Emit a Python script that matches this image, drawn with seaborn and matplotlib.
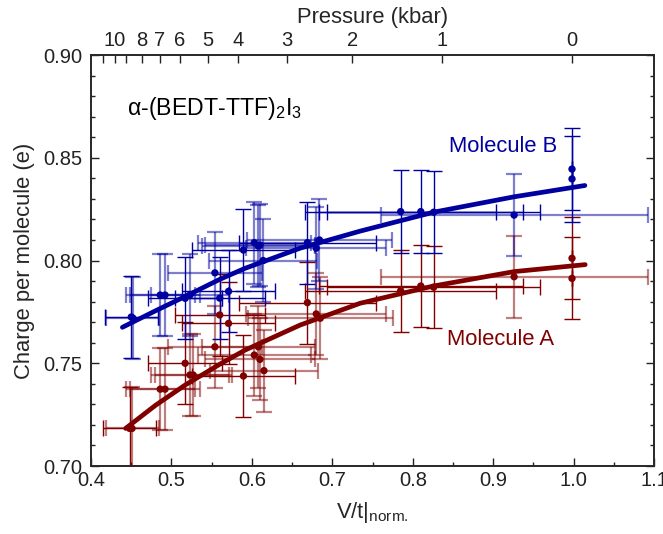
import numpy as np
import pandas as pd
import matplotlib
matplotlib.use("Agg")
import matplotlib.pyplot as plt
import seaborn as sns
from matplotlib.ticker import MultipleLocator, FormatStrFormatter

# ---------------- data ----------------
# Molecule B, measurement set I (solid error bars)
B1_vt     = [0.450, 0.517, 0.560, 0.571, 0.5895, 0.669, 0.785, 0.810, 0.826, 0.998, 0.998]
B1_charge = [0.7725, 0.7816, 0.7817, 0.7850, 0.8051, 0.8087, 0.8238, 0.8238, 0.8235, 0.8445, 0.8397]
B1_vt_err = [0.033, 0.046, 0.056, 0.058, 0.064, 0.085, 0.119, 0.127, 0.132, 0.0, 0.0]
B1_q_err  = [0.020, 0.020, 0.020, 0.020, 0.020, 0.020, 0.020, 0.020, 0.020, 0.020, 0.021]

# Molecule B, measurement set II (faint error bars)
B2_vt     = [0.452, 0.486, 0.492, 0.523, 0.554, 0.603, 0.608, 0.610, 0.614, 0.680, 0.684, 0.926]
B2_charge = [0.7720, 0.7832, 0.7832, 0.7832, 0.7940, 0.8087, 0.8070, 0.8075, 0.8000, 0.8060, 0.8100, 0.8221]
B2_vt_err = [0.033, 0.043, 0.043, 0.048, 0.058, 0.070, 0.070, 0.068, 0.067, 0.087, 0.090, 0.166]
B2_q_err  = [0.020] * 12

# Molecule A, measurement set I (solid error bars)
A1_vt     = [0.448, 0.517, 0.560, 0.571, 0.5895, 0.669, 0.785, 0.810, 0.826, 0.998, 0.998]
A1_charge = [0.7183, 0.7500, 0.7735, 0.7694, 0.7438, 0.7795, 0.7853, 0.7876, 0.7870, 0.8011, 0.7913]
A1_vt_err = [0.033, 0.046, 0.056, 0.058, 0.064, 0.085, 0.119, 0.127, 0.132, 0.0, 0.0]
A1_q_err  = [0.020] * 11

# Molecule A, measurement set II (faint error bars)
A2_vt     = [0.451, 0.486, 0.492, 0.523, 0.527, 0.554, 0.603, 0.608, 0.610, 0.615, 0.680, 0.685, 0.926]
A2_charge = [0.7183, 0.7374, 0.7374, 0.7443, 0.7443, 0.7580, 0.7540, 0.7580, 0.7519, 0.7464, 0.7740, 0.7719, 0.7921]
A2_vt_err = [0.033, 0.043, 0.043, 0.048, 0.048, 0.058, 0.070, 0.070, 0.068, 0.067, 0.087, 0.090, 0.166]
A2_q_err  = [0.020] * 13

# fitted curves
fitB_vt     = [0.439, 0.480, 0.517, 0.5604, 0.5915, 0.660, 0.7346, 0.8258, 0.926, 1.014]
fitB_charge = [0.7675, 0.7755, 0.7825, 0.7909, 0.7962, 0.8060, 0.8143, 0.8235, 0.8310, 0.8365]
fitA_vt     = [0.443, 0.480, 0.517, 0.5604, 0.5915, 0.660, 0.7346, 0.8258, 0.926, 1.0144]
fitA_charge = [0.7183, 0.7295, 0.7394, 0.7496, 0.7564, 0.7686, 0.7792, 0.7876, 0.7946, 0.7980]

# top axis: pressure (kbar) and the V/t positions of its ticks
pressure_labels = ["10", "8", "7", "6", "5", "4", "3", "2", "1", "0"]
pressure_vt     = [0.4299, 0.4631, 0.4858, 0.5107, 0.5455, 0.5828, 0.6438, 0.7246, 0.8366, 0.998]
pressure_minor_vt = [0.4150, 0.4435]   # 11 and 9 kbar (unlabelled)

# ---------------- frame building ----------------
def frame(mol, run, vt, q, dvt, dq):
    return pd.DataFrame({"molecule": mol, "run": run, "vt": vt, "charge": q,
                         "vt_err": dvt, "q_err": dq})

df = pd.concat([
    frame("Molecule B", "I", B1_vt, B1_charge, B1_vt_err, B1_q_err),
    frame("Molecule B", "II", B2_vt, B2_charge, B2_vt_err, B2_q_err),
    frame("Molecule A", "I", A1_vt, A1_charge, A1_vt_err, A1_q_err),
    frame("Molecule A", "II", A2_vt, A2_charge, A2_vt_err, A2_q_err),
], ignore_index=True)

fits = pd.concat([
    pd.DataFrame({"molecule": "Molecule B", "vt": fitB_vt, "charge": fitB_charge}),
    pd.DataFrame({"molecule": "Molecule A", "vt": fitA_vt, "charge": fitA_charge}),
], ignore_index=True)

# ---------------- style ----------------
sns.set_theme(style="ticks")
plt.rcParams["font.family"] = ["Liberation Sans", "DejaVu Sans"]
plt.rcParams["mathtext.fontset"] = "custom"
plt.rcParams["mathtext.rm"] = "Liberation Sans"
plt.rcParams["mathtext.it"] = "Liberation Sans:italic"
plt.rcParams["mathtext.sf"] = "Liberation Sans"

BLUE = "#0000A0"
RED = "#800000"
palette = {"Molecule B": BLUE, "Molecule A": RED}

fig = plt.figure(figsize=(6.63, 5.34), dpi=100)
ax = fig.add_axes([0.1373, 0.1273, 0.8492, 0.7697])

# error bars
for (mol, run), g in df.groupby(["molecule", "run"]):
    faint = run == "II"
    ax.errorbar(g["vt"], g["charge"], xerr=g["vt_err"], yerr=g["q_err"],
                fmt="none", ecolor=palette[mol], alpha=0.5 if faint else 1.0,
                elinewidth=1.6 if faint else 1.0, capsize=6,
                capthick=1.6 if faint else 1.0, zorder=2)

# fitted curves
sns.lineplot(data=fits, x="vt", y="charge", hue="molecule", palette=palette,
             sort=False, estimator=None, linewidth=3.4, legend=False, ax=ax,
             zorder=3)

# points
sns.scatterplot(data=df, x="vt", y="charge", hue="molecule", palette=palette,
                s=28, edgecolor="none", legend=False, ax=ax, zorder=4)

ax.set_xlim(0.4, 1.1)
ax.set_ylim(0.70, 0.90)
ax.xaxis.set_major_locator(MultipleLocator(0.1))
ax.xaxis.set_minor_locator(MultipleLocator(0.05))
ax.yaxis.set_major_locator(MultipleLocator(0.05))
ax.yaxis.set_minor_locator(MultipleLocator(0.01))
ax.xaxis.set_major_formatter(FormatStrFormatter("%.1f"))
ax.yaxis.set_major_formatter(FormatStrFormatter("%.2f"))
ax.tick_params(which="both", direction="in", top=False, right=True,
               colors="#222222", labelcolor="#222222", labelsize=14.5, width=1.0)
ax.tick_params(axis="y", which="major", pad=6)
ax.tick_params(which="major", length=6)
ax.tick_params(which="minor", length=3)
for sp in ax.spines.values():
    sp.set_linewidth(1.2)
    sp.set_color("#333333")

ax.set_xlabel(r"V/t$|_{\mathregular{norm.}}$", fontsize=15.8, labelpad=7.5)
ax.set_ylabel("Charge per molecule (e)", fontsize=15.8, labelpad=6)

# top pressure axis
ax2 = ax.twiny()
ax2.set_xlim(ax.get_xlim())
ax2.set_xticks(pressure_vt)
ax2.set_xticklabels(pressure_labels)
ax2.set_xticks(pressure_minor_vt, minor=True)
ax2.tick_params(which="both", direction="in", labelsize=14.5, colors="#222222",
                width=1.0)
ax2.tick_params(which="major", length=6)
ax2.tick_params(which="minor", length=6)
ax2.set_xlabel("Pressure (kbar)", fontsize=15.8, labelpad=6)

# annotations
ax.text(0.4448, 0.8742, r"$\mathregular{\alpha}$-(BEDT-TTF)$_\mathregular{2}$I$_\mathregular{3}$",
        fontsize=16.7, ha="left", va="center", color="black")
ax.text(0.9124, 0.8557, "Molecule B", fontsize=15.8, ha="center", va="center", color=BLUE)
ax.text(0.9087, 0.7618, "Molecule A", fontsize=15.8, ha="center", va="center", color=RED)

fig.savefig("out.png", dpi=100)
